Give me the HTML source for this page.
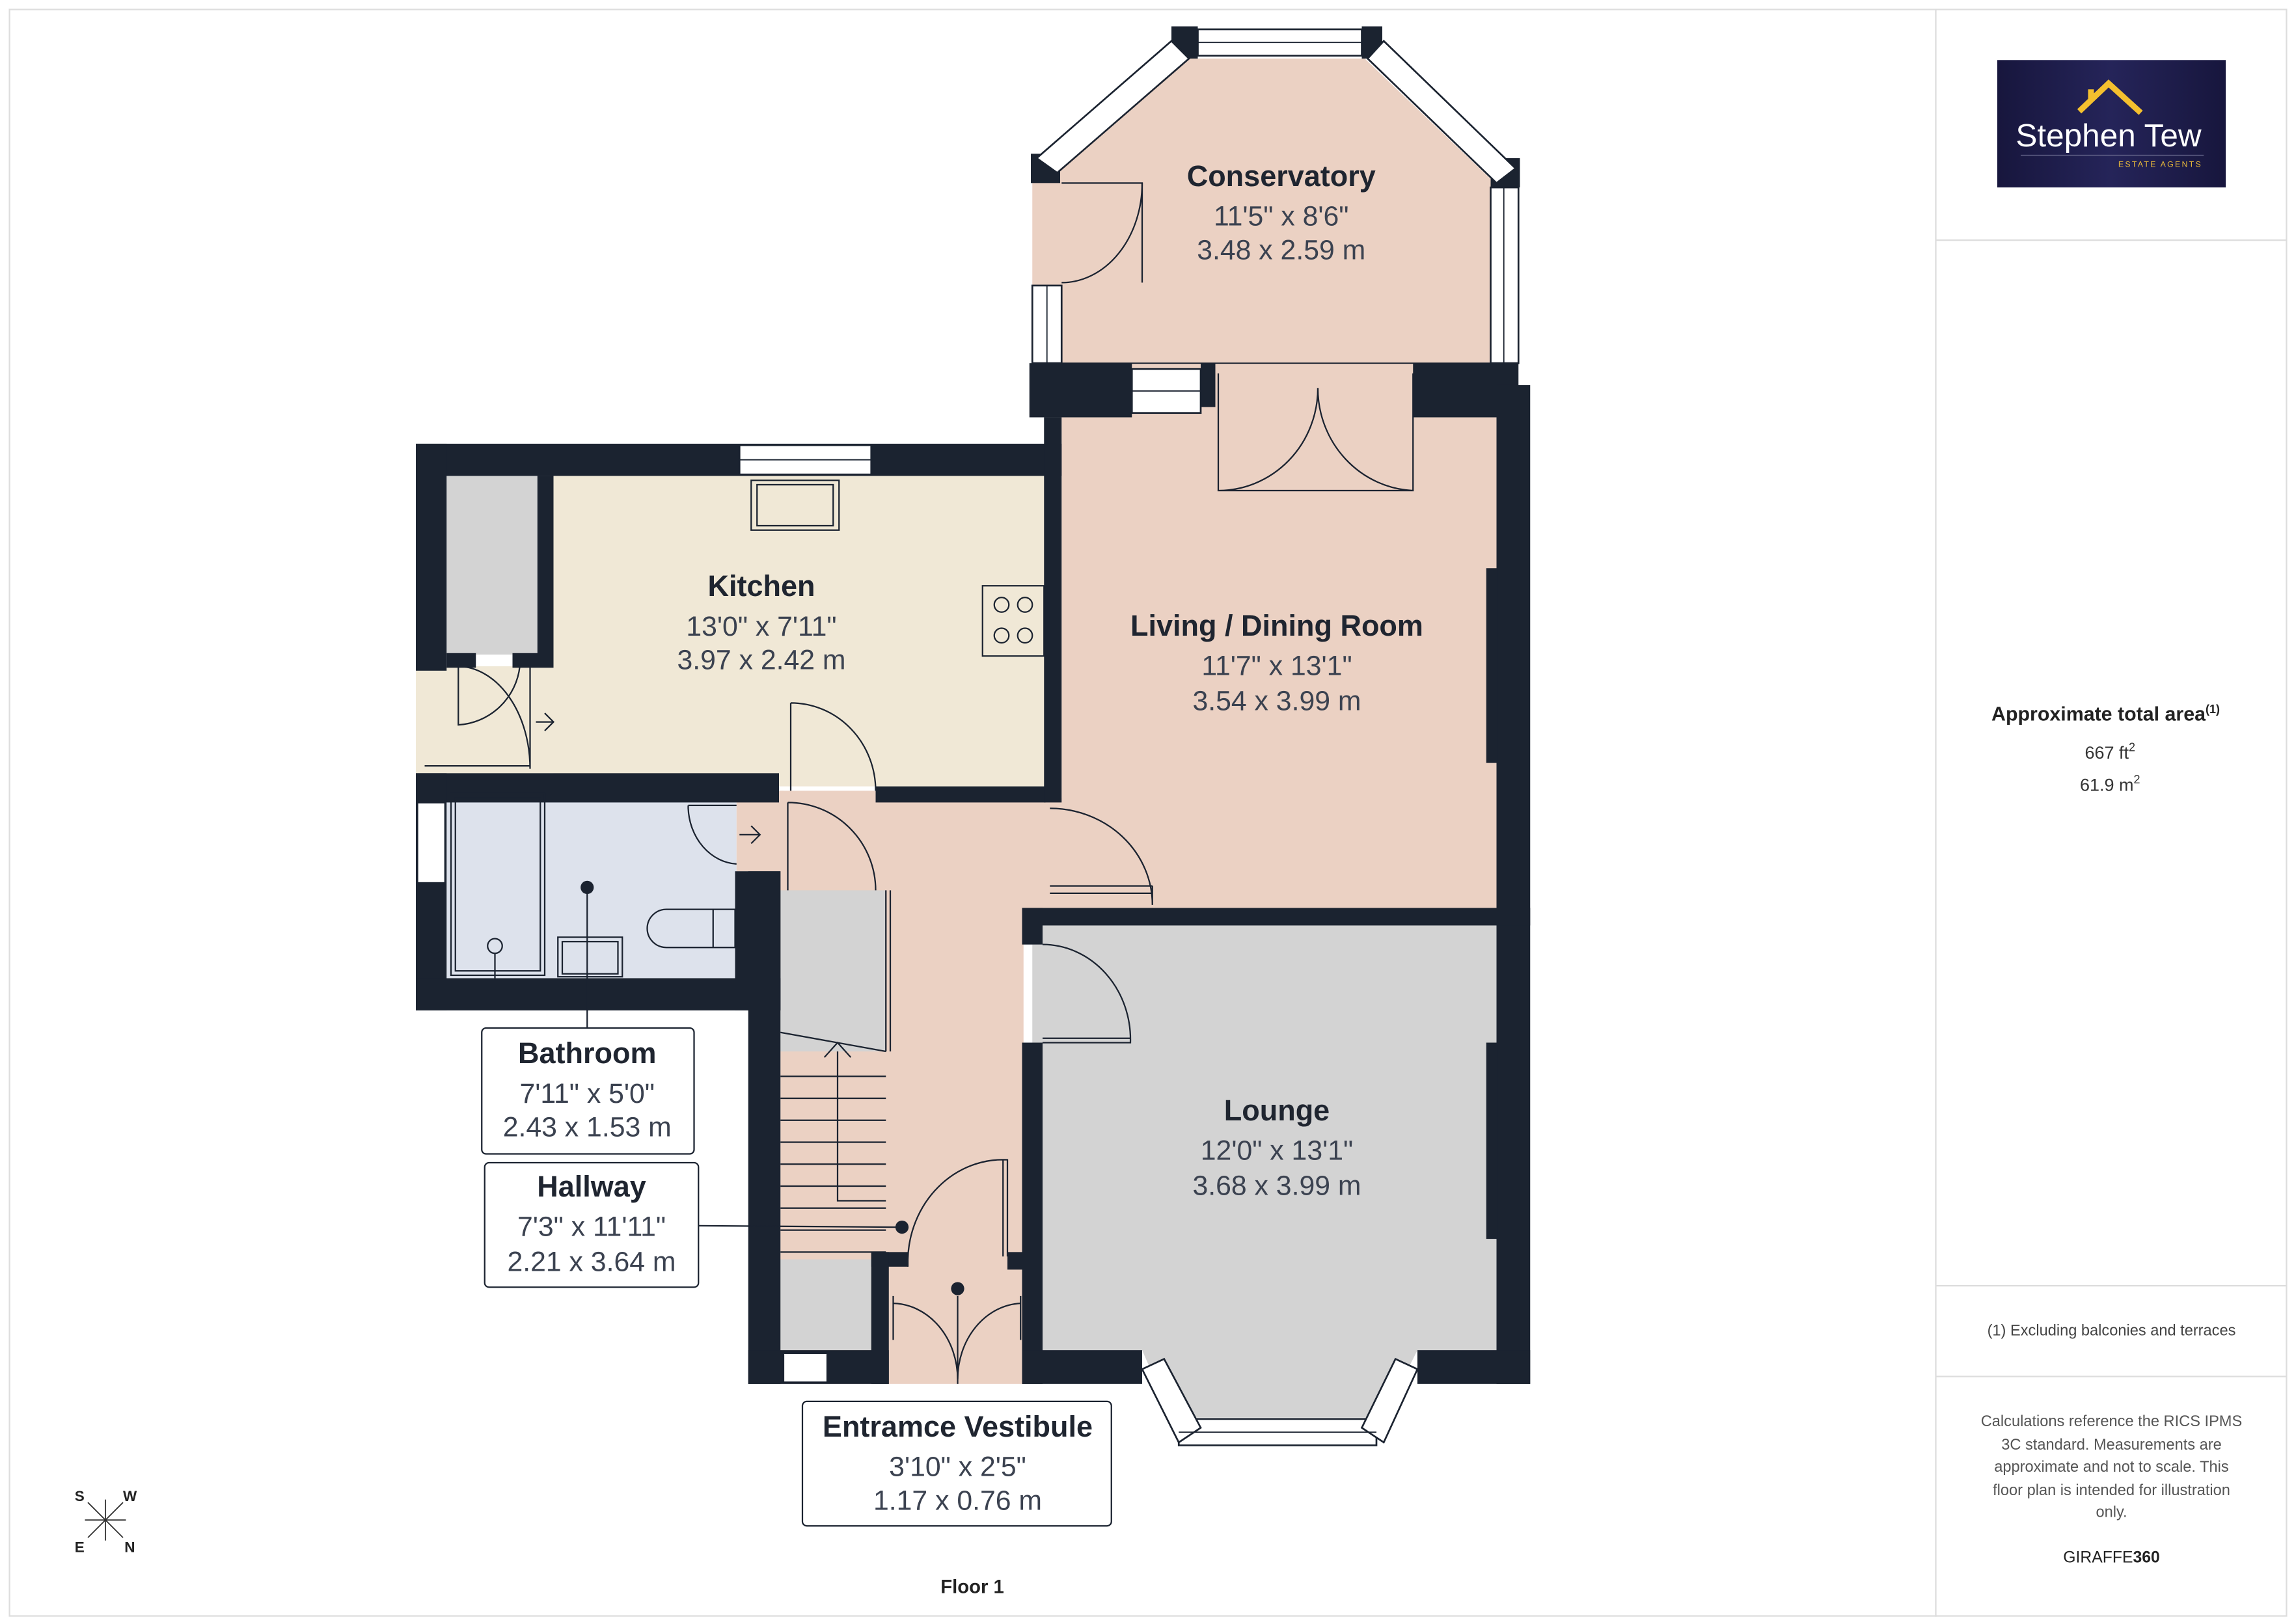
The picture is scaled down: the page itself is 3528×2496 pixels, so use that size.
<!DOCTYPE html>
<html><head><meta charset="utf-8"><style>
html,body{margin:0;padding:0;background:#fff}
svg{display:block}
text{font-family:"Liberation Sans",sans-serif}
</style></head><body>
<svg width="3528" height="2496" viewBox="0 0 1568 1109" preserveAspectRatio="none" xmlns="http://www.w3.org/2000/svg">
<defs><linearGradient id="lg" x1="0" x2="1"><stop offset="0" stop-color="#17163d"/><stop offset="0.5" stop-color="#252459"/><stop offset="1" stop-color="#17163d"/></linearGradient></defs>
<rect x="0" y="0" width="1568" height="1109" fill="#fff"/>
<rect x="6.5" y="6.5" width="1555" height="1097" fill="none" stroke="#ddd" stroke-width="1"/>
<line x1="1322" y1="6" x2="1322" y2="1104" stroke="#ddd"/>
<line x1="1322" y1="164" x2="1562" y2="164" stroke="#ddd"/>
<line x1="1322" y1="878" x2="1562" y2="878" stroke="#ddd"/>
<line x1="1322" y1="940" x2="1562" y2="940" stroke="#ddd"/>
<!-- logo -->
<rect x="1364" y="41" width="156" height="87" fill="url(#lg)"/>
<polyline points="1420,76 1440,57 1462,77" fill="none" stroke="#f4c02e" stroke-width="4"/>
<rect x="1426" y="61" width="4" height="8" fill="#f4c02e"/>
<text x="1440" y="100" font-size="22" fill="#fff" text-anchor="middle">Stephen Tew</text>
<line x1="1380" y1="106" x2="1505" y2="106" stroke="#6a6a8e" stroke-width="0.6"/>
<text x="1504" y="114" font-size="5.5" fill="#e9b93a" text-anchor="end" letter-spacing="1">ESTATE AGENTS</text>
<!-- right panel text -->
<text x="1438" y="492" font-size="13.5" font-weight="bold" fill="#222" text-anchor="middle">Approximate total area<tspan font-size="8" dy="-5">(1)</tspan></text>
<text x="1441" y="518" font-size="12" fill="#333" text-anchor="middle">667 ft<tspan font-size="8" dy="-5">2</tspan></text>
<text x="1441" y="540" font-size="12" fill="#333" text-anchor="middle">61.9 m<tspan font-size="8" dy="-5">2</tspan></text>
<text x="1442" y="912" font-size="10.5" fill="#444" text-anchor="middle">(1) Excluding balconies and terraces</text>
<g font-size="10.5" fill="#555" text-anchor="middle">
<text x="1442" y="974">Calculations reference the RICS IPMS</text>
<text x="1442" y="990">3C standard. Measurements are</text>
<text x="1442" y="1005">approximate and not to scale. This</text>
<text x="1442" y="1021">floor plan is intended for illustration</text>
<text x="1442" y="1036">only.</text>
</g>
<text x="1442" y="1067" font-size="11" fill="#222" text-anchor="middle">GIRAFFE<tspan font-weight="bold">360</tspan></text>
<text x="664" y="1088" font-size="13" font-weight="bold" fill="#222" text-anchor="middle">Floor 1</text>
<!-- compass -->
<g stroke="#333" stroke-width="0.8"><line x1="60" y1="1026" x2="84" y2="1050"/><line x1="84" y1="1026" x2="60" y2="1050"/><line x1="72" y1="1024" x2="72" y2="1052"/><line x1="58" y1="1038" x2="86" y2="1038"/></g>
<g font-size="10" font-weight="bold" fill="#222"><text x="51" y="1025">S</text><text x="84" y="1025">W</text><text x="51" y="1060">E</text><text x="85" y="1060">N</text></g>

<!-- FILLS -->
<polygon points="720,120 812,40 932,40 1022,126 1022,248 725,248 705,248 705,120" fill="#ebd1c3"/>
<rect x="725" y="248" width="297" height="373" fill="#ebd1c3"/>
<rect x="378" y="325" width="336" height="212" fill="#f0e8d6"/>
<rect x="284" y="455" width="100" height="73" fill="#f0e8d6"/>
<rect x="305" y="325" width="62" height="122" fill="#d3d3d3"/>
<rect x="305" y="540" width="198" height="128" fill="#dde2ec"/>
<rect x="533" y="540" width="166" height="405" fill="#ebd1c3"/>
<rect x="503" y="540" width="32" height="55" fill="#ebd1c3"/>
<rect x="533" y="608" width="72" height="110" fill="#d3d3d3"/>
<rect x="533" y="860" width="62" height="62" fill="#d3d3d3"/>
<polygon points="712,632 1022,632 1022,922 968,922 945,968 800,968 780,922 712,922" fill="#d3d3d3"/>
<rect x="705" y="645" width="10" height="67" fill="#d3d3d3"/>
<rect x="695" y="545" width="32" height="78" fill="#ebd1c3"/>

<!-- WALLS -->
<g fill="#1b2330">
<rect x="284" y="303" width="441" height="22"/>
<rect x="284" y="303" width="21" height="155"/>
<rect x="367" y="325" width="11" height="130"/>
<rect x="305" y="446" width="20" height="10"/>
<rect x="350" y="446" width="28" height="10"/>
<rect x="284" y="528" width="248" height="20"/>
<rect x="598" y="537" width="116" height="11"/>
<rect x="713" y="285" width="12" height="263"/>
<rect x="703" y="248" width="70" height="37"/>
<rect x="820" y="248" width="10" height="30"/>
<rect x="965" y="248" width="72" height="37"/>
<rect x="1022" y="263" width="23" height="682"/>
<rect x="1015" y="388" width="8" height="133"/>
<rect x="1015" y="712" width="8" height="134"/>
<rect x="698" y="620" width="347" height="12"/>
<rect x="698" y="620" width="14" height="25"/>
<rect x="698" y="712" width="14" height="233"/>
<rect x="698" y="922" width="82" height="23"/>
<rect x="968" y="922" width="77" height="23"/>
<rect x="284" y="528" width="21" height="162"/>
<rect x="284" y="668" width="249" height="22"/>
<rect x="502" y="595" width="31" height="95"/>
<rect x="511" y="595" width="22" height="350"/>
<rect x="511" y="922" width="96" height="23"/>
<rect x="595" y="855" width="25" height="10"/>
<rect x="595" y="855" width="12" height="90"/>
<rect x="688" y="855" width="10" height="12"/>
<rect x="704" y="105" width="20" height="20"/>
<rect x="930" y="18" width="14" height="22"/>
<rect x="800" y="18" width="18" height="22"/>
<rect x="1018" y="108" width="20" height="20"/>
</g>
<!-- windows -->
<g fill="#fff" stroke="#1b2330" stroke-width="1.2">
<rect x="505" y="304" width="90" height="20"/>
<rect x="773" y="252" width="47" height="30"/>
<rect x="285" y="548" width="19" height="55"/>
<rect x="535" y="924" width="30" height="20"/>
<rect x="705" y="195" width="20" height="53"/>
<rect x="818" y="20" width="112" height="18"/>
<rect x="1018" y="128" width="19" height="120"/>
<rect x="805" y="969" width="135" height="18"/>
<polygon points="708,108 800,28 812,40 722,118"/>
<polygon points="945,28 1035,115 1022,125 934,40"/>
<polygon points="780,935 795,928 820,975 805,985"/>
<polygon points="968,935 953,928 930,975 945,985"/>
</g>
<g stroke="#1b2330" stroke-width="0.8" fill="none">
<line x1="505" y1="314" x2="595" y2="314"/><line x1="818" y1="29" x2="930" y2="29"/><line x1="1027" y1="128" x2="1027" y2="248"/>
<line x1="805" y1="978" x2="940" y2="978"/><line x1="715" y1="195" x2="715" y2="248"/>
<line x1="725" y1="248" x2="1020" y2="248"/>
<line x1="773" y1="267" x2="820" y2="267"/>
</g>
<!-- doors and fixtures -->
<g stroke="#1b2330" stroke-width="1" fill="none">
<path d="M725,125 L780,125 A55,68 0 0 1 725,193"/>
<line x1="780" y1="125" x2="780" y2="193"/>
<path d="M832,255 L832,335 L900,335 M900,265 A68,70 0 0 1 832,335"/>
<path d="M965,255 L965,335 L900,335 M900,265 A68,70 0 0 0 965,335"/>
<rect x="513" y="328" width="60" height="34"/><rect x="517" y="331" width="52" height="28"/>
<rect x="671" y="400" width="42" height="48"/>
<circle cx="684" cy="413" r="5"/><circle cx="700" cy="413" r="5"/><circle cx="684" cy="434" r="5"/><circle cx="700" cy="434" r="5"/>
<path d="M540,480 L540,540 M540,480 A58,60 0 0 1 598,540"/>
<path d="M313,455 L313,495 A45,45 0 0 0 355,455 M313,455 A50,70 0 0 1 362,525 M362,455 L362,525 M290,523 L362,523"/>
<path d="M366,493 L378,493 M372,487 L378,493 L372,499"/>
<path d="M470,550 L470,552 A35,40 0 0 0 503,590 M470,550 L503,550"/>
<path d="M505,570 L519,570 M513,564 L519,570 L513,576"/>
<rect x="308" y="542" width="64" height="124"/><rect x="311" y="545" width="58" height="118"/>
<circle cx="338" cy="646" r="5"/><line x1="338" y1="651" x2="338" y2="668"/>
<rect x="381" y="640" width="44" height="27"/><rect x="384" y="643" width="38" height="22"/>
<path d="M487,621 L455,621 A13,13 0 0 0 455,647 L487,647 Z M487,621 L502,621 L502,647 L487,647"/>
<path d="M538,548 L538,608 M538,548 A60,60 0 0 1 598,608"/>
<path d="M605,608 L605,718 M608,608 L608,718"/>
<path d="M533,705 L605,718 M533,735 L605,735 M533,750 L605,750 M533,765 L605,765 M533,780 L605,780 M533,795 L605,795 M533,810 L605,810 M533,825 L605,825 M533,840 L605,840"/>
<path d="M572,718 L572,820 L605,820 M563,722 L572,712 L581,722"/>
<path d="M533,855 L605,855"/>
<path d="M620,865 L620,860 A65,70 0 0 1 688,792 L688,858 M685,792 L685,858"/>
<path d="M717,552 A70,66 0 0 1 787,618 M717,605 L787,605 M717,610 L787,610 M787,605 L787,618"/>
<path d="M712,645 A60,65 0 0 1 772,712 L712,712 M712,709 L772,709"/>
<path d="M610,890 A45,52 0 0 1 654,942 A45,52 0 0 1 697,890 M610,885 L610,915 M697,885 L697,915"/>
<line x1="654" y1="885" x2="654" y2="945"/>
<line x1="401" y1="607" x2="401" y2="702"/>
<line x1="477" y1="837" x2="615" y2="838"/>
</g>
<g fill="#1b2330"><circle cx="401" cy="606" r="4.5"/><circle cx="616" cy="838" r="4.5"/><circle cx="654" cy="880" r="4.5"/></g>
<!-- label boxes -->
<g fill="#fff" stroke="#1b2330" stroke-width="1">
<rect x="329" y="702" width="145" height="86" rx="3"/>
<rect x="331" y="794" width="146" height="85" rx="3"/>
<rect x="548" y="957" width="211" height="85" rx="3"/>
</g>
<g text-anchor="middle" fill="#1f2530">
<g font-size="20" font-weight="bold">
<text x="875" y="127">Conservatory</text>
<text x="520" y="407">Kitchen</text>
<text x="872" y="434">Living / Dining Room</text>
<text x="872" y="765">Lounge</text>
<text x="401" y="726">Bathroom</text>
<text x="404" y="817">Hallway</text>
<text x="654" y="981">Entramce Vestibule</text>
</g>
<g font-size="19" fill="#3b4250">
<text x="875" y="154">11'5" x 8'6"</text><text x="875" y="177">3.48 x 2.59 m</text>
<text x="520" y="434">13'0" x 7'11"</text><text x="520" y="457">3.97 x 2.42 m</text>
<text x="872" y="461">11'7" x 13'1"</text><text x="872" y="485">3.54 x 3.99 m</text>
<text x="872" y="792">12'0" x 13'1"</text><text x="872" y="816">3.68 x 3.99 m</text>
<text x="401" y="753">7'11" x 5'0"</text><text x="401" y="776">2.43 x 1.53 m</text>
<text x="404" y="844">7'3" x 11'11"</text><text x="404" y="868">2.21 x 3.64 m</text>
<text x="654" y="1008">3'10" x 2'5"</text><text x="654" y="1031">1.17 x 0.76 m</text>
</g>
</g>
</svg>
</body></html>
